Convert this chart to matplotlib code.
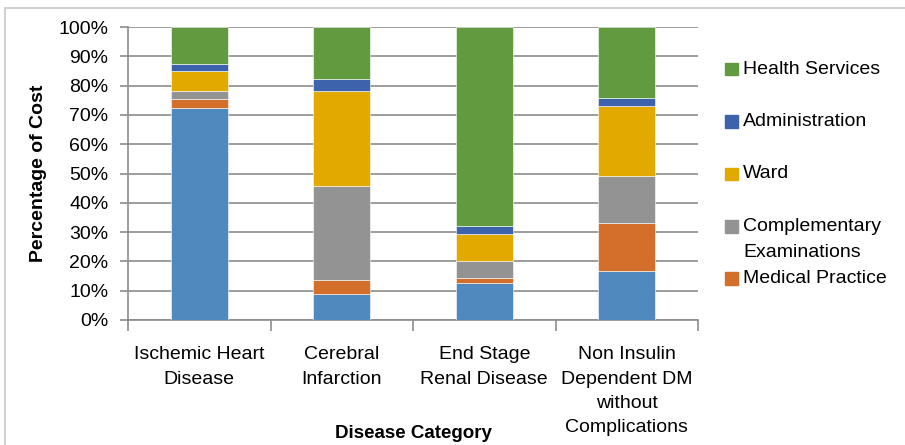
import numpy as np
import matplotlib.pyplot as plt
from matplotlib.patches import Rectangle
from matplotlib.ticker import PercentFormatter

plt.rcParams['font.family'] = ['Liberation Sans', 'DejaVu Sans']

categories = ['Ischemic Heart\nDisease', 'Cerebral\nInfarction',
              'End Stage\nRenal Disease',
              'Non Insulin\nDependent DM\nwithout\nComplications']

# cost shares (%) per disease, bottom to top
medicines = [72.4, 8.8, 12.5, 16.6]
medical_practice = [3.1, 4.7, 2.0, 16.6]
complementary = [2.8, 32.4, 5.6, 16.1]
ward = [6.6, 32.2, 9.3, 23.8]
administration = [2.6, 4.3, 2.6, 2.7]
health_services = [12.5, 17.6, 68.0, 24.2]

series = [
    ('Medicines', medicines, '#4f89bd'),
    ('Medical Practice', medical_practice, '#d36e2b'),
    ('Complementary\nExaminations', complementary, '#939393'),
    ('Ward', ward, '#e2aa00'),
    ('Administration', administration, '#3d63ad'),
    ('Health Services', health_services, '#629a3f'),
]

W, H = 905, 445
fig = plt.figure(figsize=(9.05, 4.45), dpi=100)
ax = fig.add_axes([128 / W, 1 - 320 / H, 570 / W, 293 / H])

x = np.arange(len(categories))
bottom = np.zeros(len(categories))
for name, vals, col in series:
    ax.bar(x, vals, 0.4, bottom=bottom, color=col, edgecolor='#ffffff',
           linewidth=0.4, zorder=3)
    bottom += np.array(vals)

ax.set_xlim(-0.5, len(categories) - 0.5)
ax.set_ylim(0, 100)
ax.set_yticks(np.arange(0, 101, 10))
ax.yaxis.set_major_formatter(PercentFormatter(decimals=0))
ax.grid(axis='y', color='#8c8c8c', linewidth=1.2, zorder=0)

ax.set_xticks(x)
ax.set_xticklabels(categories, fontsize=14, linespacing=1.55)
ax.set_xticks(np.arange(-0.5, len(categories)), minor=True)
ax.tick_params(axis='x', which='major', length=0, pad=19)
ax.tick_params(axis='x', which='minor', length=8, width=1.2, color='#8c8c8c')
ax.tick_params(axis='y', length=6, width=1.2, color='#8c8c8c', labelsize=14, pad=8)

for s in ['top', 'right']:
    ax.spines[s].set_visible(False)
for s in ['left', 'bottom']:
    ax.spines[s].set_color('#8c8c8c')
    ax.spines[s].set_linewidth(1.2)

ax.set_ylabel('Percentage of Cost', fontsize=14, fontweight='bold', labelpad=8)
fig.text(413 / W, 1 - 434 / H, 'Disease Category', fontsize=13.5,
         fontweight='bold', ha='center', va='center')

# legend drawn by hand so the two-line entry lines up as in the original
rows = {'Health Services': 0, 'Administration': 2, 'Ward': 4,
        'Complementary\nExaminations': 6, 'Medical Practice': 8}
for name, vals, col in series:
    if name not in rows:
        continue
    yc = 69 + 26.2 * rows[name]
    fig.patches.append(Rectangle((725 / W, 1 - (yc + 6.3) / H), 12.6 / W, 12.6 / H,
                                 transform=fig.transFigure, color=col))
    for k, line in enumerate(name.split('\n')):
        fig.text(743 / W, 1 - (yc + 26.2 * k) / H, line, fontsize=14,
                 ha='left', va='center')

# outer frame of the original chart area
fig.patches.append(Rectangle((4.5 / W, -0.05), 1.0, 1 - 8 / H + 0.05,
                             transform=fig.transFigure, fill=False,
                             edgecolor='#c8c8c8', linewidth=1.2))

fig.savefig('out.png', dpi=100)
